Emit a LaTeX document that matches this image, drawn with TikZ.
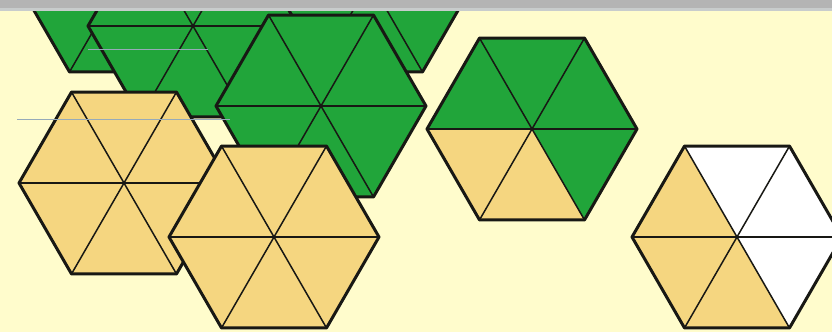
\documentclass[tikz,border=0pt]{standalone}
\usetikzlibrary{calc}
\definecolor{cream}{RGB}{255,252,204}
\definecolor{hgreen}{RGB}{33,165,58}
\definecolor{htan}{RGB}{245,214,128}
\definecolor{hwhite}{RGB}{255,255,255}
\definecolor{outline}{RGB}{24,24,20}
\definecolor{bargray}{RGB}{180,180,180}
\definecolor{barlight}{RGB}{200,204,204}
\definecolor{guide}{RGB}{150,170,185}
\tikzset{
  hexedge/.style={draw=outline, line width=3pt, line join=round},
  spoke/.style={draw=outline, line width=1.5pt},
  guideline/.style={draw=guide, line width=0.6pt}
}
% #1 centre name, #2..#7 colours of triangles 0..5 (angle 60k to 60k+60, y downward)
\newcommand{\hexa}[7]{%
  \fill[#2] (#1) -- +(0:105) -- +(60:105) -- cycle;
  \fill[#3] (#1) -- +(60:105) -- +(120:105) -- cycle;
  \fill[#4] (#1) -- +(120:105) -- +(180:105) -- cycle;
  \fill[#5] (#1) -- +(180:105) -- +(240:105) -- cycle;
  \fill[#6] (#1) -- +(240:105) -- +(300:105) -- cycle;
  \fill[#7] (#1) -- +(300:105) -- +(360:105) -- cycle;
  \draw[spoke] (#1) +(0:105) -- +(180:105);
  \draw[spoke] (#1) +(60:105) -- +(240:105);
  \draw[spoke] (#1) +(120:105) -- +(300:105);
  \draw[hexedge] (#1) +(0:105) -- +(60:105) -- +(120:105) -- +(180:105) -- +(240:105) -- +(300:105) -- cycle;
}
\begin{document}
\begin{tikzpicture}[x=1pt,y=-1pt]
\useasboundingbox (0,0) rectangle (832,332);
\fill[cream] (0,0) rectangle (832,332);
\coordinate (D) at (122,-19);
\coordinate (F) at (370,-19);
\coordinate (E) at (193,26);
\coordinate (C) at (321,106);
\coordinate (A) at (124,183);
\coordinate (B) at (274,237);
\coordinate (G) at (532,129);
\coordinate (H) at (737,237);
\hexa{D}{hgreen}{hgreen}{hgreen}{hgreen}{hgreen}{hgreen}
\hexa{F}{hgreen}{hgreen}{hgreen}{hgreen}{hgreen}{hgreen}
\hexa{E}{hgreen}{hgreen}{hgreen}{hgreen}{hgreen}{hgreen}
\hexa{C}{hgreen}{hgreen}{hgreen}{hgreen}{hgreen}{hgreen}
\hexa{A}{htan}{htan}{htan}{htan}{htan}{htan}
\hexa{B}{htan}{htan}{htan}{htan}{htan}{htan}
\hexa{G}{hgreen}{htan}{htan}{hgreen}{hgreen}{hgreen}
\hexa{H}{hwhite}{htan}{htan}{htan}{hwhite}{hwhite}
\coordinate (g1a) at (88,49);
\coordinate (g1b) at (208,49);
\coordinate (g2a) at (17,119);
\coordinate (g2b) at (230,119);
\draw[guideline] (g1a) -- (g1b);
\draw[guideline] (g2a) -- (g2b);
\fill[bargray] (0,0) rectangle (832,8);
\fill[barlight] (0,8) rectangle (832,10.5);
\end{tikzpicture}
\end{document}
